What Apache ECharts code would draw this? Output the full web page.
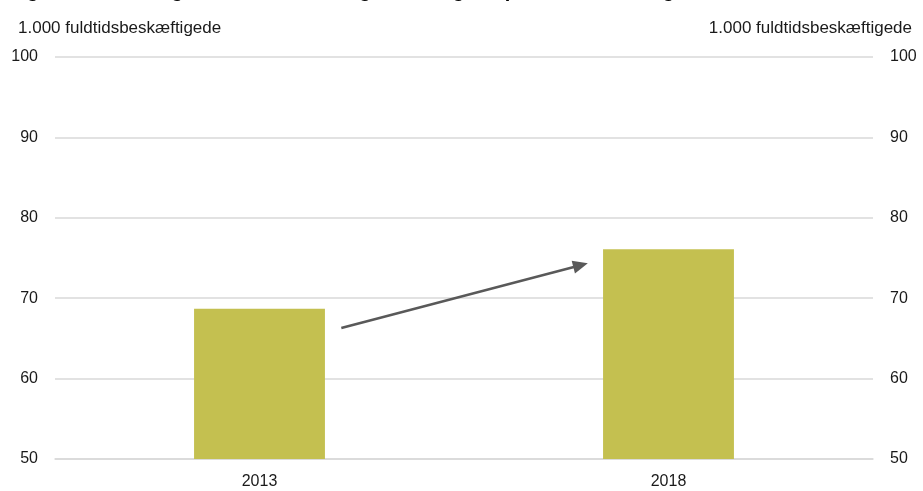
<!DOCTYPE html>
<html>
<head>
<meta charset="utf-8">
<script src="https://cdn.jsdelivr.net/npm/echarts@6/dist/echarts.min.js"></script>
<style>
  html, body { margin: 0; padding: 0; background: #fff; }
  #chart { width: 923px; height: 491px; }
</style>
</head>
<body>
<div id="chart"></div>
<script>
var years = ["2013", "2018"];
var values = [68.7, 76.1];
var yTicks = [50, 60, 70, 80, 90, 100];
var unitLabel = "1.000 fuldtidsbeskæftigede";
// arrow start / end: [category position, value]
var arrowFrom = [0.2, 66.3];
var arrowTo = [0.785, 74.1];

var font = "Liberation Sans, Arial, sans-serif";
var chart = echarts.init(document.getElementById("chart"));

var unitStyle = { fontFamily: font, fontSize: 17, fontWeight: "normal", color: "#1a1a1a" };

var yAxisBase = {
  type: "value",
  min: yTicks[0],
  max: yTicks[yTicks.length - 1],
  interval: 10,
  axisLine: { show: false },
  axisTick: { show: false },
  axisLabel: { fontFamily: font, fontSize: 16, color: "#1a1a1a", margin: 17 }
};

chart.setOption({
  animation: false,
  title: [
    {
      text: "Figur 1. Beskæftigelsen i branchen og udviklingen i perioden, 2013 og 2018",
      left: 4,
      top: -24,
      textStyle: { fontFamily: font, fontSize: 20, fontWeight: "bold", color: "#000" }
    },
    { text: unitLabel, left: 13, top: 15, textStyle: unitStyle },
    { text: unitLabel, right: 6, top: 15, textStyle: unitStyle }
  ],
  grid: { left: 55, right: 50, top: 57, bottom: 32 },
  xAxis: [
    {
      type: "category",
      data: years,
      axisLine: { lineStyle: { color: "#d9d9d9", width: 1.5 } },
      axisTick: { show: false },
      axisLabel: { fontFamily: font, fontSize: 16, color: "#1a1a1a", margin: 15 }
    },
    { type: "value", min: -0.5, max: 1.5, show: false }
  ],
  yAxis: [
    Object.assign({}, yAxisBase, {
      position: "left",
      splitLine: { lineStyle: { color: "#d9d9d9", width: 1.5 } }
    }),
    Object.assign({}, yAxisBase, {
      position: "right",
      splitLine: { show: false }
    })
  ],
  series: [
    {
      type: "bar",
      data: values,
      barWidth: "32%",
      itemStyle: { color: "#c4c050" }
    },
    {
      type: "line",
      xAxisIndex: 1,
      yAxisIndex: 0,
      data: [arrowFrom, arrowTo],
      showSymbol: false,
      lineStyle: { width: 0, opacity: 0 },
      silent: true,
      markLine: {
        silent: true,
        symbol: ["none", "triangle"],
        symbolSize: [13, 15],
        label: { show: false },
        lineStyle: { color: "#595959", width: 2.5, type: "solid" },
        data: [[{ coord: arrowFrom }, { coord: arrowTo }]]
      }
    }
  ]
});
</script>
</body>
</html>
